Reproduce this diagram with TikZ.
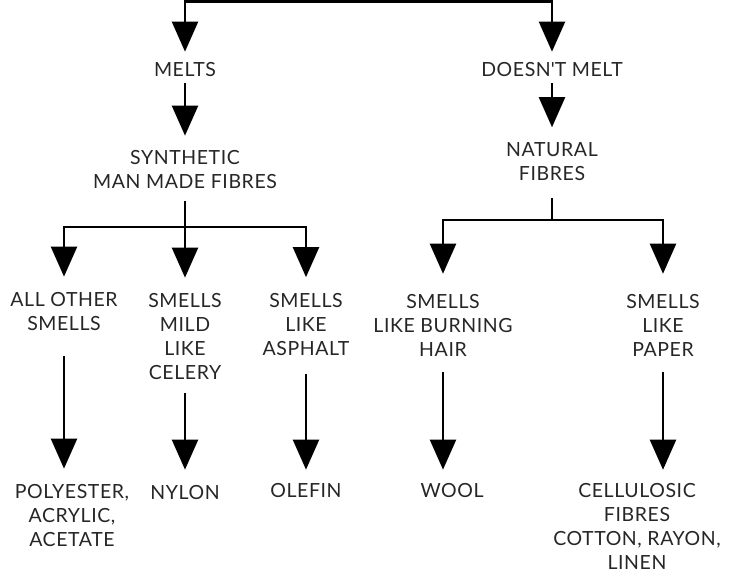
\documentclass[tikz,border=0pt]{standalone}
\usepackage{fontspec}
\setmainfont[LetterSpace=3]{Lato}
\usetikzlibrary{arrows.meta}

\begin{document}
\begin{tikzpicture}[x=1pt, y=-1pt,
		lbl/.style={align=center, inner sep=0pt, text=black!85, font=\fontsize{19.5}{24}\selectfont},
		ln/.style={line width=2.2pt},
		arr/.style={ln, -{Triangle[width=26pt, length=30pt]}}
			]
	\useasboundingbox (0,0) rectangle (729,574);

	\coordinate (top) at (309,1.5);
	\node[lbl] (melts) at (185,70) {MELTS};
	\node[lbl] (nomelt) at (552,70) {DOESN\textquotesingle T MELT};
	\node[lbl] (synth) at (185,170) {SYNTHETIC\\MAN MADE FIBRES};
	\node[lbl] (natural) at (552,161.5) {NATURAL\\FIBRES};

	\node[lbl] (other) at (64,312) {ALL OTHER\\SMELLS};
	\node[lbl] (celery) at (185,337) {SMELLS\\MILD\\LIKE\\CELERY};
	\node[lbl] (asphalt) at (306,324.5) {SMELLS\\LIKE\\ASPHALT};
	\node[lbl] (hair) at (443,325) {SMELLS\\LIKE BURNING\\HAIR};
	\node[lbl] (paper) at (663,325) {SMELLS\\LIKE\\PAPER};

	\node[lbl] (poly) at (72,516) {POLYESTER,\\ACRYLIC,\\ACETATE};
	\node[lbl] (nylon) at (185,493) {NYLON};
	\node[lbl] (olefin) at (306,491) {OLEFIN};
	\node[lbl] (wool) at (452,491) {WOOL};
	\node[lbl] (cellu) at (637,526) {CELLULOSIC\\FIBRES\\COTTON, RAYON,\\LINEN};

	% first split
	\draw[ln] (top) -- ++(0,-12);
	\draw[arr, shorten >=11pt] (top) -| (melts.north);
	\draw[arr, shorten >=11pt] (top) -| (nomelt.north);
	\draw[arr, shorten <=6pt, shorten >=15pt] (melts) -- (synth);
	\draw[arr, shorten <=6pt, shorten >=15pt] (nomelt) -- (natural);

	% forks
	\coordinate (sfork) at (185,227);
	\coordinate (nfork) at (552,220);
	\draw[ln, shorten <=12pt] (synth.south) -- (sfork);
	\draw[ln, shorten <=17pt] (natural.south) -- (nfork);
	\foreach \f/\n/\s in {sfork/other/16, sfork/celery/16, sfork/asphalt/16, nfork/hair/20, nfork/paper/20}
		\draw[arr, shorten >=\s pt] (\f) -| (\n.north);

	% results
	\foreach \a/\b/\s/\e in {other/poly/25/16, celery/nylon/13/16, asphalt/olefin/18/14, hair/wool/16/14, paper/cellu/16/13}
		\draw[arr, shorten <=\s pt, shorten >=\e pt] (\a.south) -- (\a.south |- \b.north);
\end{tikzpicture}
\end{document}
